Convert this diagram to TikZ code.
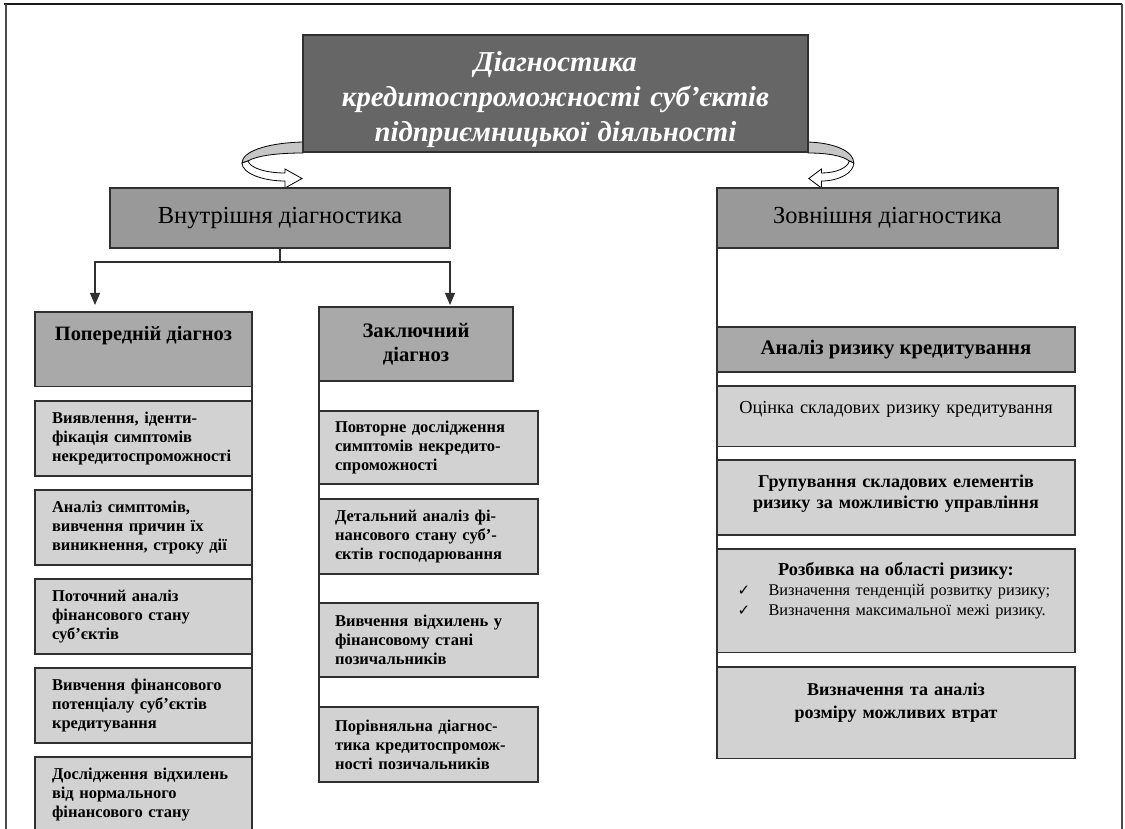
\documentclass[tikz,border=0pt]{standalone}
\usepackage{fontspec}
\setmainfont{Liberation Serif}
\newfontfamily\ckfont{DejaVu Sans}
\usetikzlibrary{arrows.meta, positioning, calc}

\definecolor{titlegray}{HTML}{666666}
\definecolor{maingray}{HTML}{999999}
\definecolor{headgray}{HTML}{A9A9A9}
\definecolor{cellgray}{HTML}{D2D2D2}
\definecolor{edgegray}{HTML}{303030}

\begin{document}
\begin{tikzpicture}[x=1pt, y=-1pt,
    box/.style={draw=edgegray, line width=1.4pt, anchor=north west, outer sep=0pt},
    cell/.style={box, fill=cellgray, align=left, inner ysep=0pt,
      font=\fontsize{16.5}{19}\selectfont\bfseries},
    leftcell/.style={cell, text width=183pt, inner xsep=17pt, minimum height=75pt},
    midcell/.style={cell, text width=187pt, inner xsep=16pt},
    riskcell/.style={box, fill=cellgray, text width=328pt, inner xsep=15pt, align=center},
    link/.style={draw=edgegray, line width=1.1pt},
    tip/.style={-{Triangle[width=10pt, length=12pt]}}]
\useasboundingbox (0,0) rectangle (1125,829);

% outer frame
\draw[line width=2.8pt, black!90] (4,4) -- (1122,4);
\draw[line width=1.6pt, black!70] (6,4) -- (6,829);
\draw[line width=1.6pt, black!70] (1122,4) -- (1122,829);

% curved arrows beside the title
\foreach \xo/\xs in {303/1, 808/-0.75} {
  \begin{scope}[shift={(\xo,0)}, xscale=\xs]
    \filldraw[fill=gray!45, draw=black, line width=0.8pt]
      (0,142) .. controls (-38,143) and (-61,152) .. (-61,163)
      -- (-55,161) .. controls (-47,156) and (-27,153) .. (0,153) -- cycle;
    \filldraw[fill=white, draw=black, line width=0.8pt]
      (-61,163) .. controls (-61,173) and (-41,181) .. (-18,181)
      -- (-18,188) -- (-1,178.5) -- (-18,169) -- (-18,173)
      .. controls (-37,173) and (-53,168) .. (-55,161) -- cycle;
  \end{scope}
}

% title
\node[box, fill=titlegray, text width=485pt, inner xsep=10pt, inner ysep=10pt,
  text height=27pt, text depth=70pt, text=white, align=center,
  font=\fontsize{28.8}{35}\selectfont\bfseries\itshape] (title) at (303,35)
  {Діагностика\\кредитоспроможності суб’єктів\\підприємницької діяльності};

% two branches
\node[box, fill=maingray, minimum width=340pt, minimum height=60pt,
  font=\fontsize{24.5}{28}\selectfont] (inner) at (110,188) {Внутрішня діагностика};
\node[box, fill=maingray, minimum width=341pt, minimum height=60pt,
  font=\fontsize{24.5}{28}\selectfont] (outer) at (717,188) {Зовнішня діагностика};

% internal diagnostics: preliminary
\node[box, fill=headgray, minimum width=217pt, inner ysep=15pt, text height=13.5pt,
  text depth=31pt, font=\fontsize{20.4}{24}\selectfont\bfseries] (prev) at (35,312)
  {Попередній діагноз};
\foreach [count=\i] \txt in {
    {Виявлення, іденти-\\фікація симптомів\\некредитоспроможності},
    {Аналіз симптомів,\\вивчення причин їх\\виникнення, строку дії},
    {Поточний аналіз\\фінансового стану\\суб’єктів},
    {Вивчення фінансового\\потенціалу суб’єктів\\кредитування},
    {Дослідження відхилень\\від нормального\\фінансового стану}} {
  \node[leftcell] (l\i) at (35,{401+89*(\i-1)}) {\txt};
}

% internal diagnostics: final
\node[box, fill=headgray, minimum width=194pt, minimum height=74pt, align=center,
  font=\fontsize{20.6}{24}\selectfont\bfseries] (final) at (319,307) {Заключний\\діагноз};
\node[midcell, minimum height=73pt] (m1) at (319,411)
  {Повторне дослідження\\симптомів некредито-\\спроможності};
\node[midcell, minimum height=75pt] (m2) at (319,499)
  {Детальний аналіз фі-\\нансового стану суб’-\\єктів господарювання};
\node[midcell, minimum height=74pt] (m3) at (319,603)
  {Вивчення відхилень у\\фінансовому стані\\позичальників};
\node[midcell, minimum height=75pt] (m4) at (319,707)
  {Порівняльна діагнос-\\тика кредитоспромож-\\ності позичальників};

% external diagnostics
\node[box, fill=headgray, minimum width=358pt, minimum height=45pt,
  font=\fontsize{20.7}{24}\selectfont\bfseries] (risk) at (717,327)
  {Аналіз ризику кредитування};
\node[riskcell, inner ysep=15pt, text height=12.2pt, text depth=18pt,
  font=\fontsize{18.3}{22}\selectfont] (r1) at (717,386)
  {Оцінка складових ризику кредитування};
\node[riskcell, inner ysep=15pt, text height=12pt, text depth=33pt,
  font=\fontsize{18.1}{21}\selectfont\bfseries] (r2) at (717,460)
  {Групування складових елементів\\ризику за можливістю управління};
\node[riskcell, inner ysep=14pt, text height=12.5pt, text depth=63pt,
  font=\fontsize{16.3}{20}\selectfont] (r3) at (717,549)
  {{\bfseries\fontsize{18.3}{20}\selectfont Розбивка на області ризику:}\\
   \makebox[317pt][l]{\makebox[31pt][l]{\ckfont\fontsize{15}{20}\selectfont ✓}Визначення тенденцій розвитку ризику;}\\
   \makebox[317pt][l]{\makebox[31pt][l]{\ckfont\fontsize{15}{20}\selectfont ✓}Визначення максимальної межі ризику.}};
\node[riskcell, inner ysep=16pt, text height=12.5pt, text depth=47pt,
  font=\fontsize{18}{23}\selectfont\bfseries] (r4) at (717,667)
  {Визначення та аналіз\\розміру можливих втрат};

% connectors
\draw[link] (inner.south) -- ++(0,14) coordinate (fork);
\draw[link, tip, shorten >=7pt] (fork) -| ([xshift=60pt]prev.north west);
\draw[link, tip, shorten >=2pt] (fork) -| ([xshift=34pt]final.north);
\draw[link] (prev.south east) -- (l5.south east);
\draw[link] (final.south west) -- (m4.north west);
\draw[link] (outer.south west) -- (r4.north west);
\end{tikzpicture}
\end{document}
